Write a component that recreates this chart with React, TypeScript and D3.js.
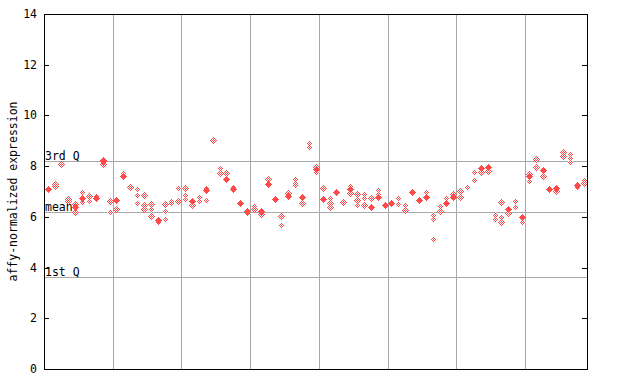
import React from "react";
import * as d3 from "d3";

// Per-sample values (79 samples, grid line every 10 samples)
const solidValues: (number | null)[] = [
  7.1, null, null, null, 6.4, 6.74, null, 6.74, 8.2, null,
  6.66, 7.6, null, null, null, null, 5.88, null, null, null,
  null, 6.62, null, 7.06, null, null, 7.5, 7.1, 6.56, 6.24,
  null, 6.24, 7.28, 6.7, null, 6.83, null, 6.8, null, 7.87,
  6.7, null, 6.97, null, 7.09, null, null, 6.4, 6.8, 6.47,
  6.56, null, null, 6.97, 6.66, 6.8, null, null, 6.56, 6.77,
  null, null, null, 7.91, 7.95, null, null, 6.3, null, 6.01,
  7.61, null, 7.85, 7.1, 7.12, null, null, 7.26, null,
];

const hatchedValues: number[][] = [
  [], [7.28, 7.2], [8.08], [6.72, 6.62], [6.49, 6.19], [6.98, 6.59], [6.82, 6.62], [6.82], [8.26, 8.08], [6.62, 6.19],
  [6.3], [7.73], [7.18], [7.1, 6.86, 6.55], [6.86, 6.47, 6.31], [6.5, 6.31, 6.03], [5.8], [6.5, 6.23, 5.92], [6.62, 6.55], [7.12, 6.62],
  [7.14, 6.86, 6.7], [6.47], [6.8, 6.62], [7.14, 6.66], [9.03], [7.93, 7.73], [7.73], [7.18], [], [6.16],
  [6.43, 6.32], [6.11], [7.48], [], [6.05, 5.67], [6.95], [7.48, 7.35, 7.24], [6.53], [8.9, 8.77], [7.98, 7.78],
  [7.12], [6.76, 6.56, 6.38], [], [6.6], [7.22, 6.95], [6.9, 6.66, 6.47], [6.9, 6.73, 6.47], [6.73], [7.06, 6.9], [],
  [], [6.73, 6.51], [6.47, 6.27], [], [], [6.99], [6.07, 5.9, 5.11], [6.44, 6.22], [6.73], [6.9],
  [7.03, 6.8], [7.16], [7.76, 7.45], [7.78], [7.82], [6.06, 5.9], [6.57, 6.01, 5.81], [6.16], [6.62, 6.4], [5.81],
  [7.69, 7.41], [8.28, 7.98], [7.61], [], [7.03], [8.57, 8.4], [8.48, 8.31, 8.15], [7.16], [7.45, 7.32],
];

const yTicks = [0, 2, 4, 6, 8, 10, 12, 14];
const quartileLines = [
  { label: "3rd Q", value: 8.22 },
  { label: "mean", value: 6.21 },
  { label: "1st Q", value: 3.62 },
];
const yLabel = "affy-normalized expression";

const W = 640;
const H = 384;
const left = 44;
const right = 587;
const top = 14;
const bottom = 369;
const RED = "#ff4a4a";
const GRID = "#a8a8a8";
const FONT = "'DejaVu Sans Mono', 'Liberation Mono', monospace";

export default function App() {
  const n = solidValues.length;
  const x = d3.scaleLinear().domain([0, n]).range([left + 0.3, right + 0.3]);
  const y = d3.scaleLinear().domain([0, 14]).range([bottom, top]);
  const px = (v: number) => Math.round(v) + 0.5;

  const diamond = (cx: number, cy: number, r = 3.5) =>
    `M${cx},${cy - r}L${cx + r},${cy}L${cx},${cy + r}L${cx - r},${cy}Z`;

  const vLines = d3.range(10, n, 10);

  return (
    <svg
      width={W}
      height={H}
      style={{ position: "absolute", left: 0, top: 0, background: "#fff" }}
    >
      <defs>
        <pattern id="chk" patternUnits="userSpaceOnUse" width={2} height={2}>
          <rect x={0} y={0} width={1} height={1} fill={RED} />
          <rect x={1} y={1} width={1} height={1} fill={RED} />
          <rect x={1} y={0} width={1} height={1} fill="#fff" />
          <rect x={0} y={1} width={1} height={1} fill="#fff" />
        </pattern>
      </defs>
      {/* grid */}
      <g shapeRendering="crispEdges" stroke={GRID} strokeWidth={1}>
        {vLines.map((i) => (
          <line key={i} x1={px(x(i) - 0.3)} x2={px(x(i) - 0.3)} y1={top} y2={bottom} />
        ))}
        {quartileLines.map((q) => (
          <line key={q.label} x1={left} x2={right} y1={px(y(q.value))} y2={px(y(q.value))} />
        ))}
      </g>
      {/* quartile labels */}
      {quartileLines.map((q) => (
        <text
          key={q.label}
          x={left + 1}
          y={Math.round(y(q.value)) - 1}
          fontFamily={FONT}
          fontSize={11.5}
          fill="#000"
        >
          {q.label}
        </text>
      ))}
      {/* points */}
      <g shapeRendering="crispEdges">
        {hatchedValues.map((vals, i) =>
          vals.map((v, j) => (
            <path
              key={`h${i}-${j}`}
              d={diamond(Math.round(x(i + 0.5)) + 0.5, Math.round(y(v)) + 0.5)}
              fill="url(#chk)"
            />
          ))
        )}
        {solidValues.map((v, i) =>
          v === null ? null : (
            <path
              key={`s${i}`}
              d={diamond(Math.round(x(i + 0.5)) + 0.5, Math.round(y(v)) + 0.5)}
              fill={RED}
            />
          )
        )}
      </g>
      {/* frame */}
      <rect
        x={left + 0.5}
        y={top + 0.5}
        width={right - left}
        height={bottom - top}
        fill="none"
        stroke="#000"
        shapeRendering="crispEdges"
      />
      {/* ticks */}
      <g shapeRendering="crispEdges" stroke="#000">
        {yTicks.map((t) => (
          <g key={t}>
            <line x1={left} x2={left + 5} y1={px(y(t))} y2={px(y(t))} />
            <line x1={right - 5} x2={right} y1={px(y(t))} y2={px(y(t))} />
          </g>
        ))}
      </g>
      {yTicks.map((t) => (
        <text
          key={t}
          x={37}
          y={y(t)}
          dy="0.35em"
          textAnchor="end"
          fontFamily={FONT}
          fontSize={11.5}
          fill="#000"
        >
          {t}
        </text>
      ))}
      <text
        transform={`translate(13,${(top + bottom) / 2}) rotate(-90)`}
        textAnchor="middle"
        dy="0.35em"
        fontFamily={FONT}
        fontSize={11.5}
        fill="#000"
      >
        {yLabel}
      </text>
    </svg>
  );
}
